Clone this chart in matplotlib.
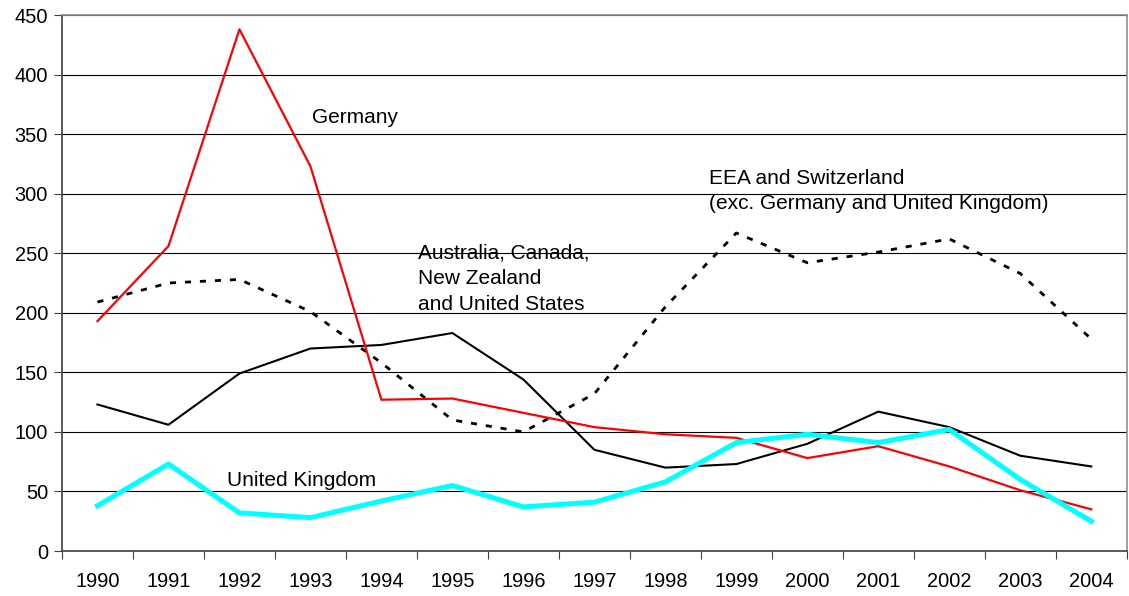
import matplotlib
matplotlib.use("Agg")
import matplotlib.pyplot as plt
import numpy as np

plt.rcParams['font.family'] = ['Liberation Sans', 'DejaVu Sans']

years = ["1990", "1991", "1992", "1993", "1994", "1995", "1996", "1997",
         "1998", "1999", "2000", "2001", "2002", "2003", "2004"]

germany = [193, 256, 438, 323, 127, 128, 116, 104, 98, 95, 78, 88, 71, 51, 35]
aus_can = [123, 106, 149, 170, 173, 183, 144, 85, 70, 73, 90, 117, 104, 80, 71]
uk = [38, 73, 32, 28, 42, 55, 37, 41, 58, 91, 98, 91, 102, 60, 25]
eea = [209, 225, 228, 201, 158, 110, 100, 132, 205, 267, 242, 251, 262, 233, 178]

fig = plt.figure(figsize=(11.29, 5.96), dpi=100)
ax = fig.add_axes([0.0549, 0.0755, 0.9431, 0.8993])

x = np.arange(len(years))

ax.plot(x, eea, color="black", lw=2, dashes=(2.2, 3.2))
ax.plot(x, aus_can, color="black", lw=1.5)
ax.plot(x, germany, color="#ff0000", lw=1.6)
ax.plot(x, uk, color="#00ffff", lw=3.6)

ax.set_xlim(-0.5, len(years) - 0.5)
ax.set_ylim(0, 450)
ax.set_yticks(np.arange(0, 451, 50))
ax.yaxis.grid(True, color="black", lw=0.8)
ax.set_axisbelow(True)

# ticks on category boundaries, labels in the middle
ax.set_xticks(np.arange(-0.5, len(years), 1))
ax.set_xticklabels([])
ax.set_xticks(x, minor=True)
ax.set_xticklabels(years, minor=True)
ax.tick_params(axis="x", which="major", direction="out", length=6, color="#404040")
ax.tick_params(axis="x", which="minor", length=0, pad=15, labelsize=14.4)
ax.tick_params(axis="y", direction="out", length=6, color="#404040", labelsize=14.4, pad=4)

for s in ["left", "bottom"]:
    ax.spines[s].set_color("#404040")
    ax.spines[s].set_linewidth(1.2)
for s in ["top", "right"]:
    ax.spines[s].set_color("#909090")
    ax.spines[s].set_linewidth(1.2)

fs = 15
ax.text(3.02, 364, "Germany", fontsize=fs, va="center")
ax.text(4.51, 258, "Australia, Canada,\nNew Zealand\nand United States",
        fontsize=fs, va="top", linespacing=1.43)
ax.text(8.61, 321, "EEA and Switzerland\n(exc. Germany and United Kingdom)",
        fontsize=fs, va="top", linespacing=1.43)
ax.text(1.83, 59, "United Kingdom", fontsize=fs, va="center")

fig.savefig("out.png", dpi=100)
